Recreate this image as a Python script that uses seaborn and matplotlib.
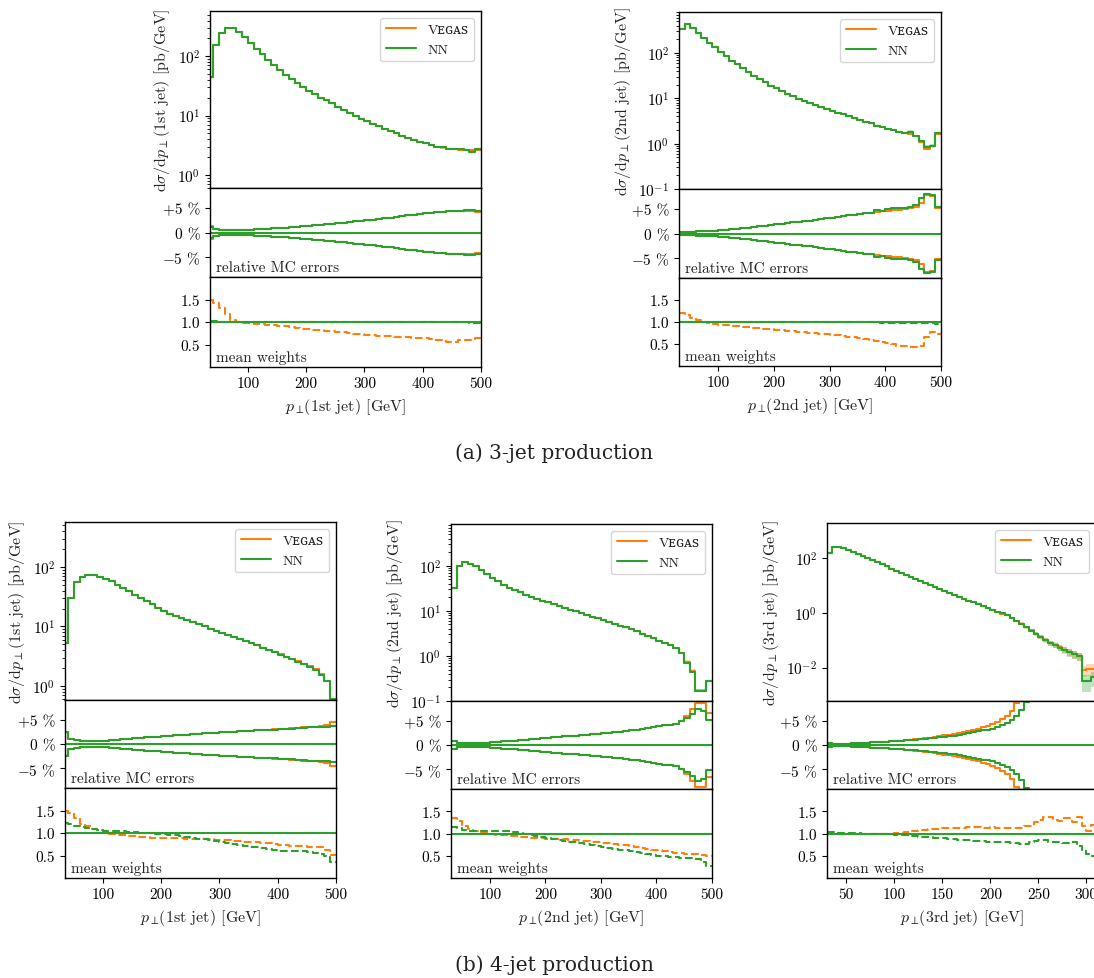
import numpy as np
import matplotlib
matplotlib.use("Agg")
import matplotlib.pyplot as plt
import seaborn as sns
from matplotlib.ticker import NullLocator, FixedLocator, FixedFormatter, LogLocator, LogFormatterSciNotation, NullFormatter

# ---------------- data ----------------
series_names = ["V\u1d07\u0262\u1d00\ua731", "NN"]

# 3-jet, 1st jet (bins: 35-40, 40-50, ..., 490-500)
a1_edges = np.array([35] + list(range(40, 501, 10)))
a1_main_vegas = [44, 157, 245, 300, 300, 255, 210, 170, 135, 110, 88, 72, 59, 49, 41, 35, 30, 26, 23, 20,
                 18, 16, 14, 12.5, 11, 10, 8.8, 8.0, 7.3, 6.6, 6.0, 5.4, 5.0, 4.6, 4.2, 3.9, 3.6, 3.4, 3.2, 3.0,
                 2.9, 2.75, 2.7, 2.65, 2.6, 2.6, 2.65]
a1_main_nn = [44, 157, 245, 300, 300, 255, 210, 170, 135, 110, 88, 72, 59, 49, 41, 35, 30, 26, 23, 20,
              18, 16, 14, 12.5, 11, 10, 8.8, 8.0, 7.3, 6.6, 6.0, 5.4, 5.0, 4.6, 4.2, 3.9, 3.6, 3.4, 3.2, 3.0,
              2.9, 2.75, 2.7, 2.7, 2.6, 2.45, 2.75]
a1_err_vegas = [1.3, 0.7, 0.5, 0.45, 0.45, 0.45, 0.5, 0.55, 0.62, 0.7, 0.78, 0.86, 0.94, 1.02, 1.1, 1.2, 1.3, 1.4,
                1.5, 1.6, 1.7, 1.8, 1.92, 2.04, 2.16, 2.28, 2.4, 2.52, 2.65, 2.78, 2.92, 3.06, 3.2, 3.34, 3.48,
                3.62, 3.78, 3.92, 4.05, 4.15, 4.25, 4.3, 4.35, 4.4, 4.42, 4.45, 4.2]
a1_err_nn = [1.2, 0.7, 0.5, 0.45, 0.45, 0.45, 0.5, 0.55, 0.62, 0.7, 0.78, 0.86, 0.94, 1.02, 1.1, 1.2, 1.3, 1.4,
             1.5, 1.6, 1.7, 1.8, 1.92, 2.04, 2.16, 2.28, 2.4, 2.52, 2.65, 2.78, 2.92, 3.06, 3.2, 3.34, 3.48,
             3.62, 3.78, 3.92, 4.05, 4.15, 4.25, 4.3, 4.35, 4.45, 4.5, 4.6, 4.3]
a1_w_vegas = [1.48, 1.43, 1.32, 1.17, 1.04, 1.0, 0.98, 0.97, 0.96, 0.95, 0.94, 0.93, 0.92, 0.91, 0.89, 0.87,
              0.85, 0.84, 0.83, 0.82, 0.8, 0.79, 0.78, 0.77, 0.76, 0.74, 0.73, 0.72, 0.71, 0.7, 0.69, 0.68,
              0.67, 0.67, 0.66, 0.65, 0.64, 0.64, 0.62, 0.61, 0.59, 0.56, 0.56, 0.59, 0.6, 0.6, 0.64]
a1_w_nn = [1.02, 1.02, 1.01, 1.01, 1.0, 1.0, 1.0, 1.0, 1.0, 1.0, 1.0, 1.0, 1.0, 1.0, 1.0, 1.0, 1.0, 1.0, 1.0,
           1.0, 1.0, 1.0, 1.0, 1.0, 1.0, 1.0, 1.0, 1.0, 1.0, 1.0, 1.0, 1.0, 1.0, 1.0, 1.0, 0.99, 0.99, 0.99,
           0.99, 0.99, 0.99, 0.99, 0.99, 0.99, 0.99, 0.98, 0.97]

# 3-jet, 2nd jet (bins: 30-40, ..., 490-500)
a2_edges = np.arange(30, 501, 10)
a2_main_vegas = [330, 445, 360, 275, 215, 168, 132, 105, 84, 68, 56, 46, 38, 31.5, 26.5, 22.5, 19, 16.5, 14.5,
                 12.7, 11.2, 9.9, 8.8, 7.9, 7.1, 6.4, 5.8, 5.3, 4.8, 4.4, 4.0, 3.6, 3.3, 3.0, 2.8, 2.5, 2.35,
                 2.15, 2.0, 1.85, 1.75, 1.65, 1.45, 1.1, 0.78, 0.88, 1.65]
a2_main_nn = [330, 445, 360, 275, 215, 168, 132, 105, 84, 68, 56, 46, 38, 31.5, 26.5, 22.5, 19, 16.5, 14.5,
              12.7, 11.2, 9.9, 8.8, 7.9, 7.1, 6.4, 5.8, 5.3, 4.8, 4.4, 4.0, 3.6, 3.3, 3.0, 2.8, 2.45, 2.35,
              2.15, 2.0, 1.85, 1.75, 1.85, 1.5, 1.15, 0.85, 0.9, 1.7]
a2_err_vegas = [0.3, 0.35, 0.4, 0.45, 0.5, 0.55, 0.6, 0.7, 0.8, 0.9, 1.0, 1.1, 1.2, 1.35, 1.5, 1.6, 1.75, 1.85,
                2.0, 2.1, 2.25, 2.4, 2.5, 2.65, 2.8, 2.95, 3.1, 3.25, 3.4, 3.55, 3.7, 3.85, 4.0, 4.1, 4.25, 4.4,
                4.5, 4.65, 4.8, 4.9, 5.0, 5.15, 5.4, 6.2, 7.9, 7.7, 5.3]
a2_err_nn = [0.3, 0.35, 0.4, 0.45, 0.5, 0.55, 0.6, 0.7, 0.8, 0.9, 1.0, 1.1, 1.2, 1.35, 1.5, 1.6, 1.75, 1.85,
             2.0, 2.1, 2.25, 2.4, 2.5, 2.65, 2.8, 2.95, 3.1, 3.25, 3.4, 3.55, 3.7, 3.85, 4.0, 4.1, 4.25, 4.8,
             4.7, 5.0, 5.2, 5.3, 5.2, 5.4, 5.8, 7.3, 8.1, 7.8, 5.5]
a2_w_vegas = [1.21, 1.15, 1.09, 1.04, 1.0, 0.98, 0.96, 0.94, 0.93, 0.92, 0.91, 0.89, 0.88, 0.87, 0.86, 0.84,
              0.83, 0.82, 0.81, 0.8, 0.79, 0.78, 0.77, 0.76, 0.75, 0.73, 0.72, 0.71, 0.7, 0.68, 0.67, 0.65,
              0.63, 0.61, 0.59, 0.57, 0.55, 0.52, 0.5, 0.46, 0.45, 0.44, 0.44, 0.46, 0.65, 0.78, 0.73]
a2_w_nn = [1.0, 1.0, 1.0, 1.0, 1.0, 1.0, 1.0, 1.0, 1.0, 1.0, 1.0, 1.0, 1.0, 1.0, 1.0, 1.0, 1.0, 1.0, 1.0, 1.0,
           1.0, 1.0, 1.0, 1.0, 1.0, 0.99, 0.99, 0.99, 0.99, 0.99, 0.99, 0.99, 0.99, 0.99, 0.99, 0.99, 0.98,
           0.98, 0.98, 0.98, 0.98, 0.98, 0.98, 0.98, 0.97, 0.97, 0.96]

# 4-jet, 1st jet
b1_edges = np.array([35] + list(range(40, 501, 10)))
b1_main_vegas = [5.2, 30, 55, 68, 72, 72, 69, 63, 57, 50, 44, 39, 34, 30, 26.5, 23.5, 20.5, 18, 16.5, 15, 14,
                 13, 12, 11, 10, 9.2, 8.5, 7.8, 7.2, 6.6, 6.1, 5.6, 5.2, 4.8, 4.4, 4.05, 3.7, 3.4, 3.1, 2.85,
                 2.6, 2.35, 2.15, 1.9, 1.6, 1.2, 0.6]
b1_main_nn = [5.2, 30, 55, 68, 72, 72, 69, 63, 57, 50, 44, 39, 34, 30, 26.5, 23.5, 20.5, 18, 16.5, 15, 14,
              13, 12, 11, 10, 9.2, 8.5, 7.8, 7.2, 6.6, 6.1, 5.6, 5.2, 4.8, 4.4, 4.0, 3.65, 3.35, 3.05, 2.8,
              2.55, 2.3, 2.1, 1.85, 1.55, 1.2, 0.6]
b1_err_vegas = [2.5, 1.0, 0.8, 0.7, 0.7, 0.7, 0.7, 0.72, 0.8, 0.9, 1.0, 1.1, 1.2, 1.3, 1.4, 1.5, 1.55, 1.62,
                1.7, 1.78, 1.86, 1.94, 2.02, 2.1, 2.18, 2.26, 2.34, 2.42, 2.5, 2.57, 2.64, 2.71, 2.78, 2.85,
                2.92, 2.99, 3.06, 3.13, 3.2, 3.28, 3.36, 3.44, 3.52, 3.6, 3.7, 3.85, 4.5]
b1_err_nn = [2.5, 1.0, 0.8, 0.7, 0.7, 0.7, 0.7, 0.72, 0.8, 0.9, 1.0, 1.1, 1.2, 1.3, 1.4, 1.5, 1.55, 1.62,
             1.7, 1.78, 1.86, 1.94, 2.02, 2.1, 2.18, 2.26, 2.34, 2.42, 2.5, 2.57, 2.64, 2.71, 2.78, 2.85,
             2.92, 2.9, 2.96, 3.03, 3.1, 3.18, 3.26, 3.34, 3.42, 3.5, 3.55, 3.6, 3.8]
b1_w_vegas = [1.5, 1.44, 1.34, 1.21, 1.15, 1.1, 1.06, 1.02, 0.98, 0.96, 0.95, 0.94, 0.93, 0.92, 0.91, 0.9, 0.9,
              0.89, 0.89, 0.88, 0.88, 0.87, 0.87, 0.87, 0.86, 0.86, 0.85, 0.85, 0.84, 0.83, 0.82, 0.81, 0.8,
              0.79, 0.78, 0.77, 0.76, 0.74, 0.73, 0.72, 0.71, 0.71, 0.7, 0.69, 0.68, 0.63, 0.51]
b1_w_nn = [1.22, 1.2, 1.16, 1.14, 1.12, 1.08, 1.06, 1.05, 1.05, 1.04, 1.04, 1.03, 1.02, 1.01, 1.0, 0.99, 0.98,
           0.97, 0.96, 0.95, 0.93, 0.91, 0.88, 0.87, 0.86, 0.84, 0.82, 0.8, 0.78, 0.76, 0.74, 0.72, 0.7, 0.68,
           0.66, 0.64, 0.63, 0.61, 0.6, 0.6, 0.59, 0.59, 0.58, 0.56, 0.53, 0.48, 0.36]

# 4-jet, 2nd jet
b2_edges = np.arange(30, 501, 10)
b2_main_vegas = [33, 100, 120, 112, 100, 82, 66, 54, 45, 38, 33, 29, 26, 23, 20.5, 18.5, 17, 15.5, 14, 12.8,
                 11.7, 10.7, 9.8, 9.0, 8.2, 7.5, 6.9, 6.3, 5.7, 5.2, 4.7, 4.3, 3.9, 3.5, 3.15, 2.8, 2.5, 2.2,
                 1.95, 1.75, 1.5, 1.15, 0.75, 0.47, 0.17, 0.17, 0.28]
b2_main_nn = [33, 100, 120, 112, 100, 82, 66, 54, 45, 38, 33, 29, 26, 23, 20.5, 18.5, 17, 15.5, 14, 12.8,
              11.7, 10.7, 9.8, 9.0, 8.2, 7.5, 6.9, 6.3, 5.7, 5.2, 4.7, 4.3, 3.9, 3.5, 3.15, 2.8, 2.5, 2.2,
              1.95, 1.75, 1.5, 1.15, 0.7, 0.45, 0.17, 0.17, 0.28]
b2_err_vegas = [0.9, 0.35, 0.35, 0.38, 0.4, 0.45, 0.5, 0.6, 0.68, 0.76, 0.84, 0.92, 1.0, 1.1, 1.2, 1.3, 1.4,
                1.5, 1.6, 1.68, 1.76, 1.84, 1.92, 2.0, 2.1, 2.2, 2.3, 2.45, 2.55, 2.65, 2.78, 2.9, 3.05, 3.2,
                3.35, 3.5, 3.7, 3.9, 4.05, 4.2, 4.35, 5.0, 6.0, 7.4, 8.7, 8.7, 6.6]
b2_err_nn = [0.9, 0.35, 0.35, 0.38, 0.4, 0.45, 0.5, 0.6, 0.68, 0.76, 0.84, 0.92, 1.0, 1.1, 1.2, 1.3, 1.4,
             1.5, 1.6, 1.68, 1.76, 1.84, 1.92, 2.0, 2.1, 2.2, 2.3, 2.45, 2.55, 2.65, 2.78, 2.9, 3.05, 3.2,
             3.35, 3.5, 3.7, 3.9, 4.05, 4.2, 4.35, 4.9, 5.5, 6.4, 7.5, 7.1, 5.2]
b2_w_vegas = [1.35, 1.27, 1.16, 1.1, 1.06, 1.02, 1.01, 0.98, 0.97, 0.96, 0.95, 0.94, 0.93, 0.92, 0.91, 0.9,
              0.89, 0.88, 0.88, 0.87, 0.87, 0.86, 0.85, 0.84, 0.83, 0.82, 0.81, 0.79, 0.78, 0.77, 0.75, 0.74,
              0.72, 0.7, 0.68, 0.66, 0.64, 0.62, 0.6, 0.59, 0.57, 0.56, 0.55, 0.54, 0.53, 0.52, 0.5]
b2_w_nn = [1.14, 1.12, 1.08, 1.06, 1.06, 1.06, 1.06, 1.06, 1.06, 1.06, 1.05, 1.03, 1.01, 0.99, 0.97, 0.95,
           0.93, 0.9, 0.88, 0.86, 0.84, 0.82, 0.8, 0.78, 0.76, 0.74, 0.72, 0.69, 0.67, 0.65, 0.63, 0.62, 0.6,
           0.58, 0.56, 0.54, 0.52, 0.5, 0.49, 0.48, 0.47, 0.46, 0.45, 0.44, 0.42, 0.37, 0.27]

# 4-jet, 3rd jet (bins of 5 GeV from 30 to 310)
b3_edges = np.arange(30, 311, 5)
b3_main_vegas = [150, 255, 250, 225, 195, 165, 140, 118, 100, 84, 70, 59, 49, 41, 34, 28.5, 24, 20, 17, 14.3,
                 12, 10.2, 8.7, 7.4, 6.3, 5.4, 4.6, 3.9, 3.3, 2.8, 2.4, 2.05, 1.75, 1.5, 1.3, 1.1, 0.9, 0.8,
                 0.65, 0.5, 0.4, 0.3, 0.23, 0.17, 0.13, 0.1, 0.08, 0.067, 0.055, 0.045, 0.037, 0.03, 0.026,
                 0.008, 0.009, 0.009]
b3_main_nn = [150, 255, 250, 225, 195, 165, 140, 118, 100, 84, 70, 59, 49, 41, 34, 28.5, 24, 20, 17, 14.3,
              12, 10.2, 8.7, 7.4, 6.3, 5.4, 4.6, 3.9, 3.3, 2.8, 2.4, 2.05, 1.75, 1.5, 1.3, 1.1, 0.95, 0.8,
              0.65, 0.5, 0.4, 0.3, 0.22, 0.17, 0.13, 0.1, 0.078, 0.065, 0.053, 0.043, 0.036, 0.03, 0.026,
              0.0033, 0.0033, 0.0045]
b3_err_vegas = [0.35, 0.25, 0.25, 0.25, 0.3, 0.35, 0.4, 0.45, 0.5, 0.55, 0.6, 0.65, 0.7, 0.75, 0.85, 0.9, 1.0,
                1.1, 1.2, 1.3, 1.4, 1.55, 1.7, 1.85, 2.0, 2.15, 2.3, 2.5, 2.7, 2.9, 3.15, 3.4, 3.7, 4.0, 4.4,
                4.8, 5.3, 5.9, 7.0, 8.6, 10.5, 12, 13.5, 15, 17, 19, 21, 23, 25, 27, 30, 33, 36, 45, 45, 45]
b3_err_nn = [0.35, 0.25, 0.25, 0.25, 0.3, 0.35, 0.4, 0.45, 0.5, 0.55, 0.6, 0.65, 0.7, 0.75, 0.82, 0.88, 0.95,
             1.02, 1.1, 1.2, 1.3, 1.4, 1.5, 1.6, 1.7, 1.82, 1.95, 2.1, 2.25, 2.4, 2.6, 2.8, 3.0, 3.2, 3.4,
             3.7, 4.1, 4.5, 5.2, 6.0, 7.2, 8.8, 10.5, 12.5, 14.5, 17, 19, 21, 24, 27, 30, 33, 36, 60, 60, 55]
b3_w_vegas = [1.02, 1.0, 0.99, 0.98, 0.98, 0.98, 0.98, 0.98, 0.98, 0.98, 0.99, 0.99, 1.0, 1.0, 1.02, 1.02,
              1.04, 1.05, 1.05, 1.07, 1.08, 1.09, 1.1, 1.11, 1.12, 1.12, 1.12, 1.13, 1.13, 1.14, 1.14, 1.14,
              1.13, 1.13, 1.14, 1.13, 1.12, 1.12, 1.13, 1.12, 1.13, 1.16, 1.17, 1.25, 1.3, 1.36, 1.38, 1.3,
              1.29, 1.34, 1.34, 1.25, 1.36, 1.17, 1.06, 1.19]
b3_w_nn = [1.04, 1.03, 1.02, 1.02, 1.02, 1.01, 1.01, 1.0, 1.0, 1.0, 1.0, 0.99, 0.99, 0.98, 0.97, 0.97, 0.96,
           0.95, 0.94, 0.93, 0.93, 0.92, 0.91, 0.9, 0.89, 0.88, 0.87, 0.86, 0.86, 0.85, 0.84, 0.83, 0.83,
           0.82, 0.82, 0.81, 0.8, 0.8, 0.79, 0.78, 0.77, 0.77, 0.8, 0.83, 0.86, 0.85, 0.82, 0.82, 0.8, 0.79,
           0.79, 0.8, 0.72, 0.64, 0.53, 0.49]

ratio_ticks = [-5, 0, 5]
ratio_labels = ["$-$5 %", "0 %", "+5 %"]
weight_ticks = [0.5, 1.0, 1.5]
weight_labels = ["0.5", "1.0", "1.5"]
captions = ["(a) 3-jet production", "(b) 4-jet production"]

# ---------------- style ----------------
sns.set_style("ticks")
plt.rcParams.update({
    "font.family": ["cmr10", "DejaVu Serif", "DejaVu Sans"],
    "mathtext.fontset": "cm",
    "axes.unicode_minus": False,
    "axes.formatter.use_mathtext": True,
    "axes.edgecolor": "black",
    "axes.linewidth": 1.0,
    "xtick.color": "black",
    "ytick.color": "black",
    "xtick.direction": "out",
    "ytick.direction": "out",
    "xtick.major.size": 3.5,
    "ytick.major.size": 3.5,
    "ytick.minor.size": 2.0,
    "font.size": 11,
    "axes.labelsize": 11.5,
    "xtick.labelsize": 11,
    "ytick.labelsize": 11,
    "text.color": "#222222",
    "axes.labelcolor": "#222222",
})

C_VEGAS = "#ff7f0e"
C_NN = "#2ca02c"
W, H = 1094, 979
fig = plt.figure(figsize=(W / 100, H / 100), dpi=100)


def rect(l, r, t, b):
    return [l / W, 1 - b / H, (r - l) / W, (b - t) / H]


def steps(ax, edges, vals, color, ls="-", label=None):
    y = np.append(np.asarray(vals, float), vals[-1])
    sns.lineplot(x=edges, y=y, drawstyle="steps-post", estimator=None, sort=False, ax=ax,
                 legend=False, color=color, lw=1.5, linestyle=ls, label=label)
    return ax.lines[-1]


def panel(box, edges, mains, errs, weights, xlim, ylim, ylabel, xlabel, xticks, log_major=None):
    l, r, t, s1, s2, b = box
    ax0 = fig.add_axes(rect(l, r, t, s1))
    ax1 = fig.add_axes(rect(l, r, s1, s2))
    ax2 = fig.add_axes(rect(l, r, s2, b))
    colors = [C_VEGAS, C_NN]
    handles = []
    for vals, err, c, name in zip(mains, errs, colors, series_names):
        v = np.append(np.asarray(vals, float), vals[-1])
        e = np.append(np.asarray(err, float), err[-1]) / 100.0
        ax0.fill_between(edges, v * (1 - e), v * (1 + e), step="post", color=c, alpha=0.3, lw=0)
        handles.append(steps(ax0, edges, vals, c, label=name))
    ax0.set_yscale("log")
    ax0.set_ylim(*ylim)
    if log_major is not None:
        ax0.yaxis.set_major_locator(FixedLocator(log_major))
        ax0.yaxis.set_major_formatter(LogFormatterSciNotation())
        ax0.yaxis.set_minor_locator(NullLocator())
    else:
        ax0.yaxis.set_major_locator(LogLocator(base=10, numticks=10))
        ax0.yaxis.set_minor_locator(LogLocator(base=10, subs=np.arange(2, 10), numticks=10))
        ax0.yaxis.set_minor_formatter(NullFormatter())
    ax0.set_ylabel(ylabel)
    ax0.legend(handles=handles, labels=series_names, loc="upper right", fontsize=10,
               frameon=True, fancybox=True, framealpha=0.8, edgecolor="0.8", handlelength=2.2)

    for err, c in zip(errs, colors):
        steps(ax1, edges, err, c)
        steps(ax1, edges, [-x for x in err], c)
    ax1.axhline(0, color=C_NN, lw=1.5)
    ax1.set_ylim(-9.1, 9.1)
    ax1.yaxis.set_major_locator(FixedLocator(ratio_ticks))
    ax1.yaxis.set_major_formatter(FixedFormatter(ratio_labels))
    ax1.text(0.022, 0.03, "relative MC errors", transform=ax1.transAxes, ha="left", va="bottom", fontsize=11)

    for w, c in zip(weights, colors):
        steps(ax2, edges, w, c, ls="--")
    ax2.axhline(1.0, color=C_NN, lw=1.5)
    ax2.set_ylim(0, 2)
    ax2.yaxis.set_major_locator(FixedLocator(weight_ticks))
    ax2.yaxis.set_major_formatter(FixedFormatter(weight_labels))
    ax2.text(0.022, 0.03, "mean weights", transform=ax2.transAxes, ha="left", va="bottom", fontsize=11)

    for ax in (ax0, ax1, ax2):
        ax.set_xlim(*xlim)
        ax.set_xlabel("")
        for sp in ax.spines.values():
            sp.set_visible(True)
            sp.set_color("black")
        ax.tick_params(axis="y", which="both", left=True, right=False)
    for ax in (ax0, ax1):
        ax.tick_params(axis="x", which="both", bottom=False, labelbottom=False)
    ax1.set_ylabel("")
    ax2.set_ylabel("")
    ax2.set_xticks(xticks)
    ax2.set_xticklabels([str(x) for x in xticks])
    ax2.set_xlabel(xlabel)
    return ax0, ax1, ax2


panel((210, 481, 12, 189, 278, 368), a1_edges, [a1_main_vegas, a1_main_nn], [a1_err_vegas, a1_err_nn],
      [a1_w_vegas, a1_w_nn], (35, 500), (0.6, 580),
      r"d$\sigma$/d$p_\perp$(1st jet) [pb/GeV]", r"$p_\perp\!$(1st jet) [GeV]", [100, 200, 300, 400, 500])

panel((679, 941, 13, 190, 279, 367), a2_edges, [a2_main_vegas, a2_main_nn], [a2_err_vegas, a2_err_nn],
      [a2_w_vegas, a2_w_nn], (30, 500), (0.1, 800),
      r"d$\sigma$/d$p_\perp$(2nd jet) [pb/GeV]", r"$p_\perp\!$(2nd jet) [GeV]", [100, 200, 300, 400, 500])

panel((65, 336, 523, 701, 789, 879), b1_edges, [b1_main_vegas, b1_main_nn], [b1_err_vegas, b1_err_nn],
      [b1_w_vegas, b1_w_nn], (35, 500), (0.58, 570),
      r"d$\sigma$/d$p_\perp$(1st jet) [pb/GeV]", r"$p_\perp\!$(1st jet) [GeV]", [100, 200, 300, 400, 500])

panel((451, 712, 525, 702, 790, 879), b2_edges, [b2_main_vegas, b2_main_nn], [b2_err_vegas, b2_err_nn],
      [b2_w_vegas, b2_w_nn], (30, 500), (0.1, 850),
      r"d$\sigma$/d$p_\perp$(2nd jet) [pb/GeV]", r"$p_\perp\!$(2nd jet) [GeV]", [100, 200, 300, 400, 500])

panel((827, 1096, 524, 702, 790, 879), b3_edges, [b3_main_vegas, b3_main_nn], [b3_err_vegas, b3_err_nn],
      [b3_w_vegas, b3_w_nn], (30, 310), (6e-4, 1900),
      r"d$\sigma$/d$p_\perp$(3rd jet) [pb/GeV]", r"$p_\perp\!$(3rd jet) [GeV]", [50, 100, 150, 200, 250, 300],
      log_major=[1e-2, 1e0, 1e2])

fig.text(554 / W, 1 - 453 / H, captions[0], ha="center", va="center", fontsize=14.5,
         family="DejaVu Serif", color="#222222")
fig.text(554 / W, 1 - 965 / H, captions[1], ha="center", va="center", fontsize=14.5,
         family="DejaVu Serif", color="#222222")

fig.savefig("out.png", dpi=100)
